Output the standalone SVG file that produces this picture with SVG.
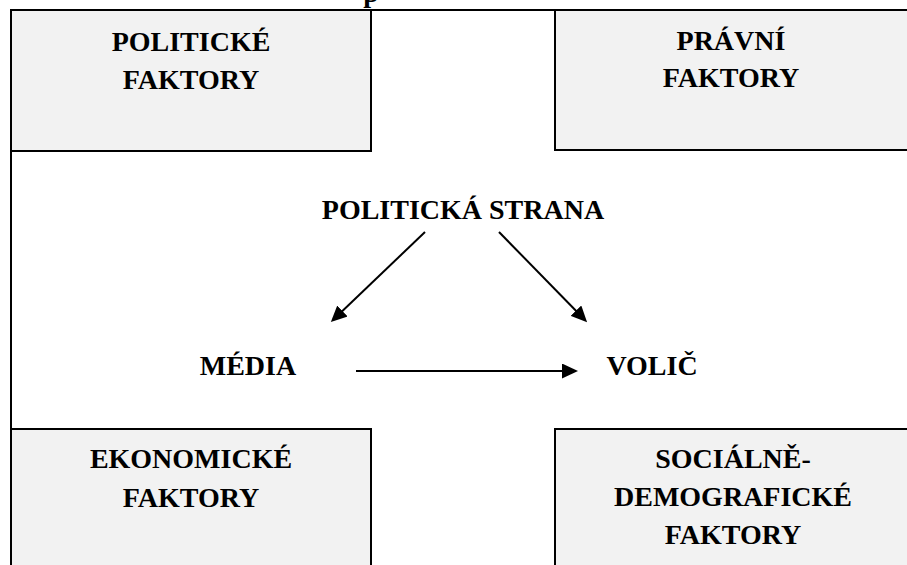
<svg xmlns="http://www.w3.org/2000/svg" width="907" height="565" viewBox="0 0 907 565">
<style>
.box{fill:#f2f2f2;stroke:#000;stroke-width:2}
.frame{fill:none;stroke:#000;stroke-width:2}
.t{font-family:"Liberation Serif","Times New Roman",serif;font-weight:bold;font-size:28px;fill:#000;text-anchor:middle}
.c{stroke:#000;stroke-width:2;fill:none}
</style>
<defs>
<marker id="ah" markerUnits="userSpaceOnUse" markerWidth="16" markerHeight="15" viewBox="0 0 16 15" refX="13" refY="7.5" orient="auto">
<path d="M0,0 L16,7.5 L0,15 z" fill="#000"/>
</marker>
</defs>
<rect width="907" height="565" fill="#fff"/>
<text class="t" x="371" y="2">p</text>
<path class="frame" d="M11,565 V10 H907"/>
<g id="politicke">
<rect class="box" x="11" y="10" width="360" height="141"/>
<text class="t" x="191" y="51">POLITICKÉ</text>
<text class="t" x="191" y="89">FAKTORY</text>
</g>
<g id="pravni">
<rect class="box" x="555" y="10" width="360" height="140"/>
<text class="t" x="731" y="50">PRÁVNÍ</text>
<text class="t" x="731" y="87">FAKTORY</text>
</g>
<g id="ekonomicke">
<rect class="box" x="11" y="429" width="360" height="145"/>
<text class="t" x="191" y="468">EKONOMICKÉ</text>
<text class="t" x="191" y="507">FAKTORY</text>
</g>
<g id="socialne">
<rect class="box" x="555" y="429" width="360" height="145"/>
<text class="t" x="733" y="468">SOCIÁLNĚ-</text>
<text class="t" x="733" y="506">DEMOGRAFICKÉ</text>
<text class="t" x="733" y="544">FAKTORY</text>
</g>
<g id="strana">
<text class="t" x="463" y="219">POLITICKÁ STRANA</text>
</g>
<g id="media">
<text class="t" x="248" y="375">MÉDIA</text>
</g>
<g id="volic">
<text class="t" x="652" y="375">VOLIČ</text>
</g>
<g id="connectors">
<line class="c" x1="425" y1="232" x2="333" y2="320" marker-end="url(#ah)"/>
<line class="c" x1="499" y1="232" x2="585" y2="320" marker-end="url(#ah)"/>
<line class="c" x1="356" y1="371" x2="575" y2="371" marker-end="url(#ah)"/>
</g>
</svg>
